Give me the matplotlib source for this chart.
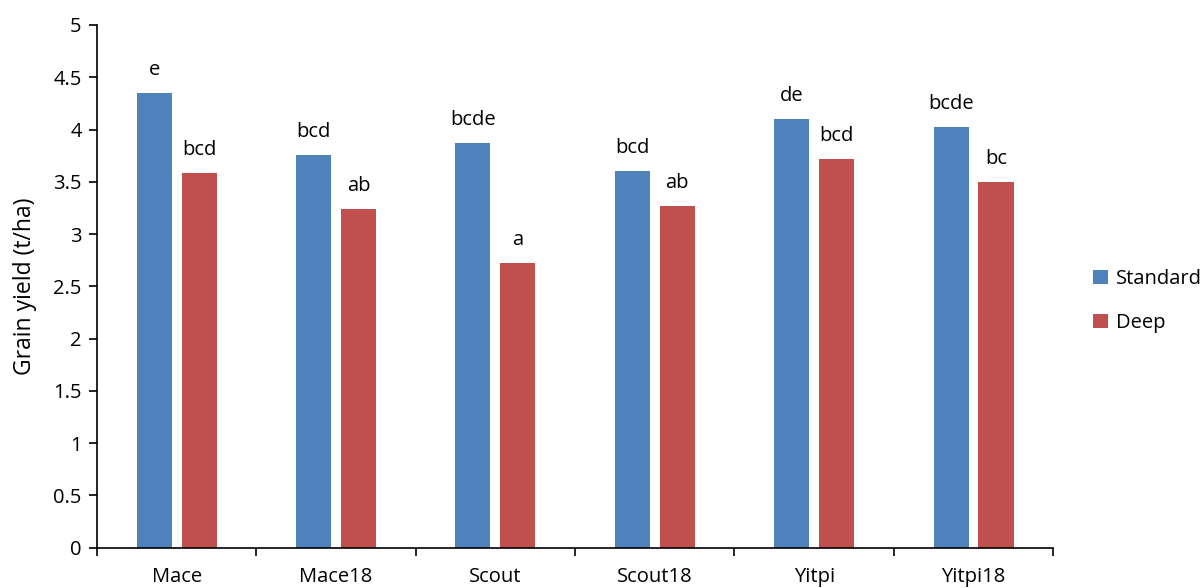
import numpy as np
import matplotlib
matplotlib.use("Agg")
import matplotlib.pyplot as plt

plt.rcParams['font.family'] = ['Open Sans', 'DejaVu Sans']

cultivars = ['Mace', 'Mace18', 'Scout', 'Scout18', 'Yitpi', 'Yitpi18']
standard = [4.35, 3.76, 3.87, 3.60, 4.10, 4.02]
deep = [3.58, 3.24, 2.72, 3.27, 3.72, 3.50]
standard_letters = ['e', 'bcd', 'bcde', 'bcd', 'de', 'bcde']
deep_letters = ['bcd', 'ab', 'a', 'ab', 'bcd', 'bc']

blue = '#4F81BD'
red = '#C0504D'
fs = 14.5

fig = plt.figure(figsize=(12.02, 5.88), dpi=100)
ax = fig.add_axes([0.0807, 0.0685, 0.7955, 0.889])

x = np.arange(len(cultivars))
w = 0.22
b1 = ax.bar(x - 0.141, standard, w, color=blue, label='Standard')
b2 = ax.bar(x + 0.141, deep, w, color=red, label='Deep')

# significance letters above each bar
for xi, v, t in zip(x - 0.141, standard, standard_letters):
    ax.annotate(t, (xi, v), xytext=(0, 13), textcoords='offset points',
                ha='center', va='baseline', fontsize=fs)
for xi, v, t in zip(x + 0.141, deep, deep_letters):
    ax.annotate(t, (xi, v), xytext=(0, 13), textcoords='offset points',
                ha='center', va='baseline', fontsize=fs)

ax.set_xlim(-0.5, len(cultivars) - 0.5)
ax.set_ylim(0, 5)
ax.set_yticks(np.arange(0, 5.01, 0.5))
ax.set_yticklabels(['0', '0.5', '1', '1.5', '2', '2.5', '3', '3.5', '4', '4.5', '5'])
ax.set_xticks(x)
ax.set_xticklabels(cultivars)
ax.set_xticks(np.arange(-0.5, len(cultivars), 1), minor=True)
ax.tick_params(axis='x', which='major', length=0, pad=14, labelsize=fs)
ax.tick_params(axis='x', which='minor', length=6, width=1.2)
ax.tick_params(axis='y', length=6, width=1.2, labelsize=fs, pad=5)
ax.set_ylabel('Grain yield (t/ha)', fontsize=16.5, labelpad=12)

for s in ['top', 'right']:
    ax.spines[s].set_visible(False)
for s in ['left', 'bottom']:
    ax.spines[s].set_linewidth(1.2)

fig.legend(handles=[b1, b2], loc='center left', bbox_to_anchor=(0.909, 0.488),
           frameon=False, fontsize=fs, handlelength=0.75, handleheight=0.75,
           handletextpad=0.4, labelspacing=1.2, borderpad=0, borderaxespad=0)

fig.savefig('out.png', dpi=100)
